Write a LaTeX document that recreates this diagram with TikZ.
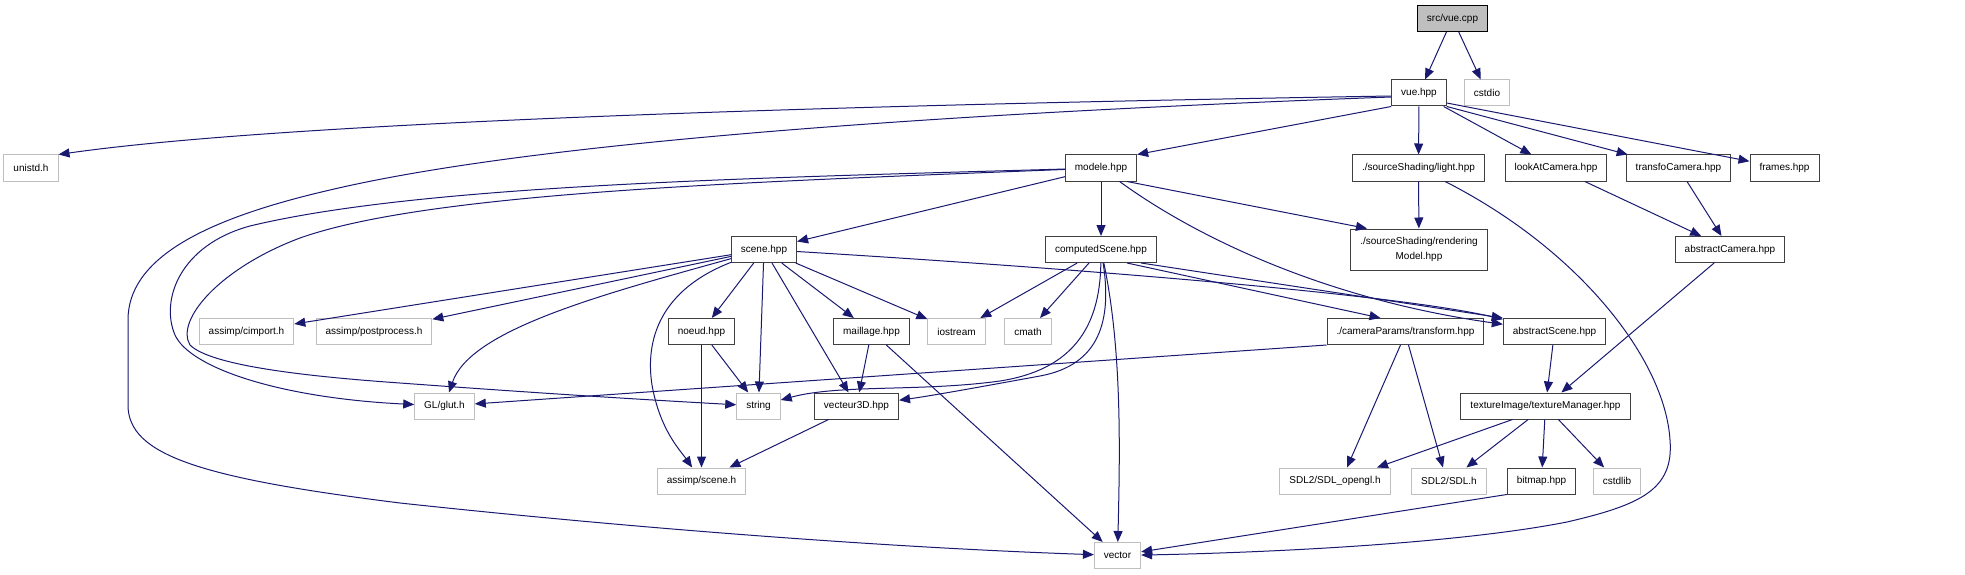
\documentclass[tikz,border=0pt]{standalone}
\usepackage{fontspec}
\setmainfont{Liberation Sans}
\usepackage{tikz}
\definecolor{edgeblue}{RGB}{25,25,112}
\definecolor{boxgray}{RGB}{191,191,191}
\usetikzlibrary{arrows.meta}

\begin{document}
\begin{tikzpicture}[x=1pt, y=-1pt,
    box/.style={draw=black!75, line width=1pt, fill=white, inner xsep=9.5pt, inner ysep=0pt,
                minimum height=26pt, font=\fontsize{10}{12}\selectfont},
    ext/.style={box, draw=boxgray},
    dep/.style={draw=edgeblue, line width=1pt, -{Triangle[length=11pt,width=9pt]}}]
  \useasboundingbox (0,0) rectangle (1965,575);

  \node[box, fill=boxgray, draw=black] (vuecpp) at (1452.5,18.5) {src/vue.cpp};
  \node[box] (vuehpp) at (1419,93) {vue.hpp};
  \node[ext] (cstdio) at (1487,93) {cstdio};
  \node[ext] (unistd) at (31,168) {unistd.h};
  \node[box] (modele) at (1101,168) {modele.hpp};
  \node[box] (light) at (1418.5,168) {./sourceShading/light.hpp};
  \node[box] (lookat) at (1556,168) {lookAtCamera.hpp};
  \node[box] (transfo) at (1678.5,168) {transfoCamera.hpp};
  \node[box] (frames) at (1784.5,168) {frames.hpp};
  \node[box] (scene) at (764,249.5) {scene.hpp};
  \node[box] (computed) at (1101,249.5) {computedScene.hpp};
  \node[box, align=center, minimum height=41pt, font=\fontsize{10}{15}\selectfont] (rendering) at (1419,249.5) {./sourceShading/rendering\\Model.hpp};
  \node[box] (abscam) at (1730,249.5) {abstractCamera.hpp};
  \node[ext] (cimport) at (246.5,331.5) {assimp/cimport.h};
  \node[ext] (postproc) at (374,331.5) {assimp/postprocess.h};
  \node[box] (noeud) at (701.5,331.5) {noeud.hpp};
  \node[box] (maillage) at (871.5,331.5) {maillage.hpp};
  \node[ext] (iostream) at (956.5,331.5) {iostream};
  \node[ext] (cmath) at (1028,331.5) {cmath};
  \node[box] (transform) at (1405.5,331.5) {./cameraParams/transform.hpp};
  \node[box] (absscene) at (1554.5,331.5) {abstractScene.hpp};
  \node[ext] (glut) at (444.5,406) {GL/glut.h};
  \node[ext] (string) at (758.5,406) {string};
  \node[box] (vecteur) at (856.5,406) {vecteur3D.hpp};
  \node[box] (texman) at (1545.5,406) {textureImage/textureManager.hpp};
  \node[ext] (ascene) at (701.5,481) {assimp/scene.h};
  \node[ext] (sdlgl) at (1335,481) {SDL2/SDL\_opengl.h};
  \node[ext] (sdl) at (1449,481) {SDL2/SDL.h};
  \node[box] (bitmap) at (1541.5,481) {bitmap.hpp};
  \node[ext] (cstdlib) at (1617,481) {cstdlib};
  \node[ext] (vector) at (1117.5,555.5) {vector};

  % src/vue.cpp
  \draw[dep] (vuecpp) -- (vuehpp);
  \draw[dep] (vuecpp) -- (cstdio);
  % vue.hpp
  \draw[dep] ([yshift=-3]vuehpp.west) .. controls (900,104) and (300,120) .. (unistd.north east);
  \draw[dep] ([yshift=-4]vuehpp.west) .. controls (900,115) and (520,145) .. (330,190)
     .. controls (200,220) and (128,260) .. (128,320) -- (128,405)
     .. controls (128,455) and (200,478) .. (400,503) .. controls (650,530) and (900,548) .. (vector);
  \draw[dep] (vuehpp.south west) -- (modele.north east);
  \draw[dep] (vuehpp) -- (light);
  \draw[dep] (vuehpp) -- (lookat);
  \draw[dep] (vuehpp.south east) -- (transfo);
  \draw[dep] ([yshift=-10]vuehpp.east) -- (frames);
  % modele.hpp
  \draw[dep] (modele) -- (scene);
  \draw[dep] (modele) -- (computed);
  \draw[dep] ([xshift=26]modele.south) -- ([xshift=-52]rendering.north);
  \draw[dep] (modele) .. controls (1200,240) and (1330,300) .. (absscene);
  \draw[dep] (modele) .. controls (750,178) and (420,185) .. (250,226)
     .. controls (180,245) and (160,300) .. (175,335) .. controls (190,368) and (280,398) .. (glut);
  \draw[dep] (modele) .. controls (750,182) and (430,192) .. (300,238)
     .. controls (220,268) and (175,320) .. (190,345) .. controls (210,365) and (300,376) .. (400,383)
     .. controls (550,394) and (650,400) .. (string);
  % scene.hpp
  \draw[dep] (scene) -- (cimport);
  \draw[dep] (scene) -- (postproc);
  \draw[dep] (scene) .. controls (600,295) and (470,330) .. (glut);
  \draw[dep] (scene) .. controls (660,290) and (645,340) .. (652,385) .. controls (660,430) and (680,450) .. (ascene);
  \draw[dep] (scene) -- (noeud);
  \draw[dep] (scene) -- (string);
  \draw[dep] (scene) -- (vecteur);
  \draw[dep] (scene) -- (maillage);
  \draw[dep] (scene) -- (iostream);
  \draw[dep] (scene) .. controls (1100,270) and (1400,295) .. (absscene);
  % computedScene.hpp
  \draw[dep] (computed) -- (iostream);
  \draw[dep] (computed) -- (cmath);
  \draw[dep] (computed) .. controls (1100,330) and (1070,370) .. (1000,381) .. controls (920,392) and (840,384) .. (string);
  \draw[dep] (computed) .. controls (1112,320) and (1100,365) .. (1040,376) .. controls (980,387) and (930,396) .. (vecteur);
  \draw[dep] (computed) .. controls (1122,350) and (1120,450) .. (vector);
  \draw[dep] ([xshift=26]computed.south) -- ([xshift=-25]transform.north);
  \draw[dep] ([xshift=40]computed.south) -- (absscene.north west);
  % light.hpp
  \draw[dep] (light) -- (rendering);
  \draw[dep] (light) .. controls (1580,250) and (1665,360) .. (1670,440)
     .. controls (1674,490) and (1640,505) .. (1567,522) .. controls (1450,545) and (1250,553) .. (vector);
  % cameras
  \draw[dep] (lookat) -- (abscam);
  \draw[dep] (transfo) -- (abscam);
  \draw[dep] (abscam) -- (texman);
  \draw[dep] (absscene) -- (texman);
  % transform.hpp
  \draw[dep] (transform.south west) -- (glut);
  \draw[dep] ([xshift=-5]transform.south) -- ([xshift=12]sdlgl.north);
  \draw[dep] ([xshift=3]transform.south) -- ([xshift=-6]sdl.north);
  % textureManager.hpp
  \draw[dep] ([xshift=-33]texman.south) -- ([xshift=42]sdlgl.north);
  \draw[dep] (texman) -- (sdl);
  \draw[dep] (texman) -- (bitmap);
  \draw[dep] (texman) -- (cstdlib);
  \draw[dep] (bitmap.south west) -- (vector);
  % noeud, maillage, vecteur3D
  \draw[dep] (noeud) -- (string);
  \draw[dep] (noeud) -- (ascene);
  \draw[dep] (maillage) -- (vecteur);
  \draw[dep] (maillage) -- (vector);
  \draw[dep] (vecteur) -- (ascene);
\end{tikzpicture}
\end{document}
